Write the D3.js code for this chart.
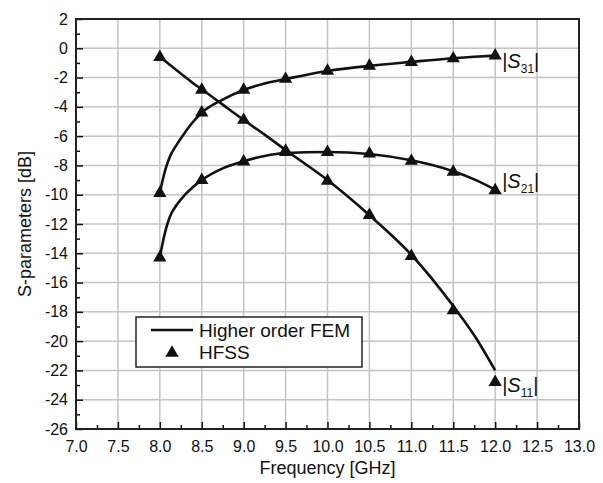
<!DOCTYPE html>
<html>
<head>
<meta charset="utf-8">
<script src="https://cdn.jsdelivr.net/npm/d3@7"></script>
<style>
  body { margin: 0; background: #fff; }
  text { font-family: "Liberation Sans", Arial, sans-serif; fill: #111; }
</style>
</head>
<body>
<svg id="drawing_region"></svg>
<script>
// HFSS samples (triangles)
const hfss_freq = [8.0, 8.5, 9.0, 9.5, 10.0, 10.5, 11.0, 11.5, 12.0];
const hfss_s11 = [-0.6, -2.85, -4.9, -7.0, -9.05, -11.4, -14.2, -17.9, -22.8];
const hfss_s21 = [-14.3, -9.0, -7.75, -7.1, -7.1, -7.2, -7.7, -8.45, -9.7];
const hfss_s31 = [-9.9, -4.4, -2.85, -2.1, -1.55, -1.2, -0.95, -0.7, -0.5];

// Higher order FEM curves
const fem_freq = [8.0, 8.03, 8.07, 8.12, 8.2, 8.3, 8.4, 8.5, 8.75, 9.0, 9.25, 9.5, 10.0, 10.5, 11.0, 11.5, 11.75, 12.0];
const fem_s11 = [-0.6, -0.73, -0.9, -1.13, -1.5, -1.95, -2.4, -2.8, -3.85, -4.9, -5.9, -6.95, -9.0, -11.4, -14.1, -17.6, -19.6, -22.0];
const fem_s21 = [-14.3, -13.4, -12.4, -11.5, -10.7, -10.0, -9.45, -9.0, -8.2, -7.72, -7.35, -7.15, -7.08, -7.22, -7.65, -8.4, -8.95, -9.65];
const fem_s31 = [-9.9, -9.1, -8.2, -7.4, -6.6, -5.75, -5.0, -4.4, -3.5, -2.85, -2.4, -2.1, -1.55, -1.2, -0.93, -0.68, -0.58, -0.5];

const x_ticks = d3.range(7.0, 13.01, 0.5);
const y_ticks = d3.range(-26, 2.01, 2);
const legend_labels = ["Higher order FEM", "HFSS"];
const curve_names = [["S", "11"], ["S", "21"], ["S", "31"]];

const config = {
    width: 603,
    height: 483,
    margin: {top: 19, right: 24, bottom: 54, left: 76}
};

const svg = d3.select('#drawing_region')
    .attr('width', config.width)
    .attr('height', config.height);

const inner_width = config.width - config.margin.left - config.margin.right;
const inner_height = config.height - config.margin.top - config.margin.bottom;

const chart = svg.append('g')
    .attr('transform', `translate(${config.margin.left}, ${config.margin.top})`);

const xscale = d3.scaleLinear().domain([7, 13]).range([0, inner_width]);
const yscale = d3.scaleLinear().domain([-26, 2]).range([inner_height, 0]);

// grid
chart.append('g')
    .selectAll('line')
    .data(x_ticks.slice(1, -1))
    .join('line')
    .attr('x1', d => xscale(d)).attr('x2', d => xscale(d))
    .attr('y1', 0).attr('y2', inner_height)
    .attr('stroke', '#c4c4c4').attr('stroke-width', 1.5);

chart.append('g')
    .selectAll('line')
    .data(y_ticks.slice(1, -1))
    .join('line')
    .attr('y1', d => yscale(d)).attr('y2', d => yscale(d))
    .attr('x1', 0).attr('x2', inner_width)
    .attr('stroke', '#c4c4c4').attr('stroke-width', 1.5);

// axes (ticks pointing inward)
const xaxis = d3.axisBottom(xscale)
    .tickValues(x_ticks)
    .tickFormat(d3.format('.1f'))
    .tickSize(-7)
    .tickPadding(12)
    .tickSizeOuter(0);

const xminor = d3.axisBottom(xscale)
    .tickValues(d3.range(7.25, 13, 0.5))
    .tickFormat('')
    .tickSize(-4)
    .tickSizeOuter(0);

const yaxis = d3.axisLeft(yscale)
    .tickValues(y_ticks)
    .tickFormat(d => d)
    .tickSize(-7)
    .tickPadding(8)
    .tickSizeOuter(0);

const yminor = d3.axisLeft(yscale)
    .tickValues(d3.range(-25, 2, 2))
    .tickFormat('')
    .tickSize(-4)
    .tickSizeOuter(0);

const styleAxis = g => {
    g.select('.domain').remove();
    g.selectAll('.tick line').attr('stroke', '#111').attr('stroke-width', 1.5);
    g.selectAll('.tick text').attr('font-size', '16px').attr('fill', '#111')
        .attr('font-family', '"Liberation Sans", Arial, sans-serif');
};

chart.append('g').attr('transform', `translate(0, ${inner_height})`).call(xaxis).call(styleAxis);
chart.append('g').attr('transform', `translate(0, ${inner_height})`).call(xminor).call(styleAxis);
chart.append('g').call(yaxis).call(styleAxis);
chart.append('g').call(yminor).call(styleAxis);

// frame
chart.append('rect')
    .attr('x', 0).attr('y', 0)
    .attr('width', inner_width).attr('height', inner_height)
    .attr('fill', 'none').attr('stroke', '#222').attr('stroke-width', 2);

// FEM lines
const line = d3.line()
    .x(d => xscale(d[0]))
    .y(d => yscale(d[1]))
    .curve(d3.curveMonotoneX);

[fem_s11, fem_s21, fem_s31].forEach(vals => {
    chart.append('path')
        .attr('d', line(fem_freq.map((f, i) => [f, vals[i]])))
        .attr('fill', 'none')
        .attr('stroke', '#111')
        .attr('stroke-width', 2.6);
});

// HFSS triangles
const tri = d3.symbol().type(d3.symbolTriangle).size(76);
[hfss_s11, hfss_s21, hfss_s31].forEach(vals => {
    chart.append('g')
        .selectAll('path')
        .data(hfss_freq.map((f, i) => [f, vals[i]]))
        .join('path')
        .attr('d', tri)
        .attr('transform', d => `translate(${xscale(d[0])}, ${yscale(d[1])})`)
        .attr('fill', '#111');
});

// curve labels |S_xy|
const label_anchor = [hfss_s11, fem_s21, fem_s31];
const label_dy = [10, -2, 12];
curve_names.forEach((nm, i) => {
    const vals = label_anchor[i];
    const t = chart.append('text')
        .attr('x', xscale(12) + 7)
        .attr('y', yscale(vals[vals.length - 1]) + label_dy[i])
        .attr('font-size', '20px');
    t.append('tspan').text('|');
    t.append('tspan').attr('font-style', 'italic').text(nm[0]);
    t.append('tspan').attr('font-size', '12px').attr('dy', 5).text(nm[1]);
    t.append('tspan').attr('dy', -5).text('|');
});

// legend
const legend = chart.append('g').attr('transform', 'translate(60, 298)');
legend.append('rect')
    .attr('width', 226).attr('height', 50)
    .attr('fill', '#fff').attr('stroke', '#222').attr('stroke-width', 1.5);
legend.append('line')
    .attr('x1', 15).attr('x2', 57).attr('y1', 13).attr('y2', 13)
    .attr('stroke', '#111').attr('stroke-width', 2.6);
legend.append('path')
    .attr('d', tri)
    .attr('transform', 'translate(36, 36)')
    .attr('fill', '#111');
legend.selectAll('text.leg')
    .data(legend_labels)
    .join('text')
    .attr('class', 'leg')
    .attr('x', 63)
    .attr('y', (d, i) => 20 + i * 22)
    .attr('font-size', '19px')
    .text(d => d);

// axis titles
svg.append('text')
    .attr('x', config.margin.left + inner_width / 2)
    .attr('y', 474)
    .attr('text-anchor', 'middle')
    .attr('font-size', '18px')
    .text('Frequency [GHz]');

svg.append('text')
    .attr('transform', `translate(31, ${config.margin.top + inner_height / 2}) rotate(-90)`)
    .attr('text-anchor', 'middle')
    .attr('font-size', '18px')
    .text('S-parameters [dB]');
</script>
</body>
</html>
